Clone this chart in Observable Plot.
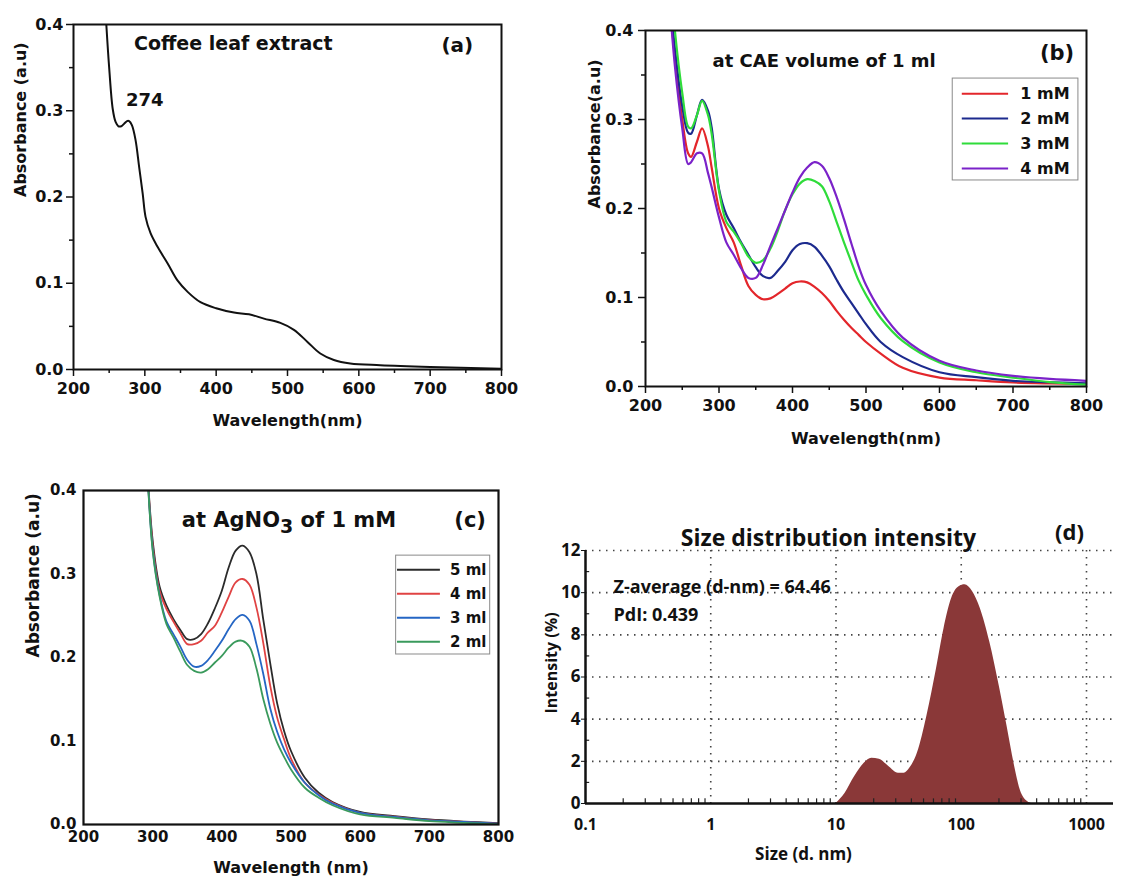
<!DOCTYPE html>
<html><head><meta charset="utf-8">
<script src="https://cdn.jsdelivr.net/npm/d3@7"></script>
<script src="https://cdn.jsdelivr.net/npm/@observablehq/plot@0.6"></script>
<style>
html,body{margin:0;padding:0;background:#fff;}
#fig{position:relative;width:1125px;height:881px;overflow:hidden;background:#fff;}
.panel{position:absolute;}
</style></head><body><div id="fig"></div>
<script>
// ---------- Panel (a): coffee leaf extract ----------
const wlA  = [244, 246, 250, 255, 259, 263, 267, 271, 275, 278, 282, 287, 292, 297, 301, 308, 318, 332, 346, 360, 378, 400, 425, 446, 467, 490, 509, 528, 546, 565, 588, 630, 700, 800];
const absA = [0.43, 0.40, 0.35, 0.302, 0.287, 0.282, 0.282, 0.285, 0.288, 0.288, 0.283, 0.266, 0.235, 0.204, 0.177, 0.158, 0.142, 0.123, 0.103, 0.090, 0.078, 0.071, 0.066, 0.064, 0.059, 0.054, 0.046, 0.032, 0.0185, 0.011, 0.007, 0.005, 0.003, 0.001];

// ---------- Panel (b): AgNO3 concentration series ----------
const wlB = [232, 240, 250, 258, 262, 270, 277, 285, 290, 300, 310, 320, 330, 340, 350, 360, 370, 380, 390, 400, 410, 420, 430, 440, 450, 460, 470, 480, 490, 500, 520, 550, 600, 650, 700, 750, 800];
const seriesB = ["1 mM", "2 mM", "3 mM", "4 mM"];
const b1mM = [0.44, 0.37, 0.30, 0.262, 0.258, 0.275, 0.290, 0.270, 0.246, 0.200, 0.178, 0.162, 0.136, 0.113, 0.103, 0.098, 0.099, 0.104, 0.110, 0.116, 0.118, 0.117, 0.112, 0.105, 0.096, 0.085, 0.075, 0.066, 0.058, 0.050, 0.037, 0.021, 0.010, 0.007, 0.0045, 0.0035, 0.003];
const b2mM = [0.45, 0.38, 0.315, 0.285, 0.284, 0.305, 0.322, 0.310, 0.291, 0.222, 0.193, 0.178, 0.162, 0.148, 0.134, 0.124, 0.122, 0.130, 0.140, 0.153, 0.160, 0.161, 0.157, 0.147, 0.135, 0.120, 0.106, 0.094, 0.082, 0.070, 0.050, 0.033, 0.016, 0.0105, 0.0064, 0.0048, 0.0035];
const b3mM = [0.48, 0.40, 0.33, 0.292, 0.290, 0.305, 0.321, 0.305, 0.284, 0.220, 0.185, 0.174, 0.161, 0.146, 0.139, 0.142, 0.155, 0.175, 0.198, 0.216, 0.228, 0.233, 0.231, 0.225, 0.208, 0.185, 0.162, 0.140, 0.119, 0.103, 0.077, 0.051, 0.027, 0.016, 0.010, 0.005, 0.002];
const b4mM = [0.44, 0.36, 0.29, 0.250, 0.252, 0.262, 0.262, 0.240, 0.224, 0.190, 0.162, 0.148, 0.133, 0.122, 0.122, 0.137, 0.158, 0.178, 0.198, 0.218, 0.235, 0.246, 0.252, 0.248, 0.234, 0.213, 0.188, 0.161, 0.135, 0.114, 0.085, 0.055, 0.029, 0.018, 0.012, 0.0085, 0.0064];
const colorsB = ["#e3262b", "#1c2a8e", "#2fdc3a", "#7b22c9"];

// ---------- Panel (c): CAE volume series ----------
const wlC = [292, 300, 310, 320, 330, 340, 350, 360, 370, 380, 390, 400, 410, 420, 430, 440, 450, 460, 470, 480, 490, 500, 520, 540, 560, 600, 650, 700, 750, 800];
const seriesC = ["5 ml", "4 ml", "3 ml", "2 ml"];
const c5ml = [0.43, 0.340, 0.285, 0.262, 0.246, 0.233, 0.222, 0.222, 0.228, 0.241, 0.259, 0.280, 0.308, 0.328, 0.334, 0.326, 0.300, 0.245, 0.193, 0.145, 0.112, 0.088, 0.056, 0.038, 0.027, 0.015, 0.010, 0.006, 0.0035, 0.0016];
const c4ml = [0.43, 0.335, 0.280, 0.258, 0.243, 0.229, 0.216, 0.216, 0.220, 0.230, 0.238, 0.254, 0.273, 0.290, 0.294, 0.287, 0.260, 0.217, 0.166, 0.128, 0.102, 0.079, 0.050, 0.036, 0.026, 0.014, 0.0093, 0.0052, 0.003, 0.001];
const c3ml = [0.43, 0.330, 0.275, 0.243, 0.228, 0.213, 0.197, 0.189, 0.190, 0.197, 0.208, 0.220, 0.234, 0.246, 0.251, 0.244, 0.216, 0.180, 0.139, 0.111, 0.090, 0.074, 0.050, 0.035, 0.025, 0.014, 0.009, 0.005, 0.003, 0.001];
const c2ml = [0.43, 0.328, 0.273, 0.240, 0.224, 0.207, 0.191, 0.184, 0.182, 0.186, 0.194, 0.202, 0.212, 0.219, 0.220, 0.213, 0.187, 0.150, 0.121, 0.098, 0.081, 0.066, 0.044, 0.032, 0.023, 0.012, 0.008, 0.004, 0.002, 0.0];
const colorsC = ["#2b2b2b", "#e04343", "#2566c4", "#3a9a5c"];

// ---------- Panel (d): DLS size distribution ----------
const sizeD = [10, 11.8, 14.1, 16.8, 19.3, 22.2, 26.4, 31.5, 35, 38.9, 44.7, 53.2, 63.4, 72.9, 83.9, 96.6, 107, 123, 142, 169, 201, 232, 267, 296, 340, 365];
const intD  = [0, 0.48, 1.28, 1.91, 2.15, 2.10, 1.76, 1.44, 1.44, 1.68, 2.39, 4.15, 6.38, 8.30, 9.73, 10.29, 10.37, 10.05, 9.25, 7.66, 5.58, 3.67, 1.76, 0.64, 0.08, 0];

// ticks
const xTicksAbs = [200, 300, 400, 500, 600, 700, 800];
const yTicksAbs = [0, 0.1, 0.2, 0.3, 0.4];
const xTicksD = [0.1, 1, 10, 100, 1000];
const yTicksD = [0, 2, 4, 6, 8, 10, 12];

// ---------- build ----------
const fig = document.getElementById("fig");
function place(svg, left, top) {
  const d = document.createElement("div");
  d.className = "panel"; d.style.left = left + "px"; d.style.top = top + "px";
  d.appendChild(svg); fig.appendChild(d);
}
const F = "DejaVu Sans";
const baseStyle = (size, fam) => ({fontFamily: fam || F, fontWeight: "bold", fontSize: size + "px", background: "transparent", color: "#111", overflow: "visible"});
const fmt1 = d3.format(".1f");
const smooth = "catmull-rom";

const dataA = wlA.map((w, i) => ({wl: w, a: absA[i]}));
const valsB = [b1mM, b2mM, b3mM, b4mM];
const dataB = seriesB.flatMap((s, k) => wlB.map((w, i) => ({wl: w, a: valsB[k][i], s})));
const valsC = [c5ml, c4ml, c3ml, c2ml];
const dataC = seriesC.flatMap((s, k) => wlC.map((w, i) => ({wl: w, a: valsC[k][i], s})));
const dataD = sizeD.map((x, i) => ({size: x, v: intD[i]}));

// Panel (a)
const pa = Plot.plot({
  width: 540, height: 445, marginLeft: 73, marginRight: 39, marginTop: 24, marginBottom: 76,
  style: baseStyle(16),
  x: {domain: [200, 800], label: null},
  y: {domain: [0, 0.4], label: null},
  marks: [
    Plot.axisX({ticks: d3.range(250, 800, 100), tickSize: 4, tickFormat: () => "", label: null, strokeWidth: 1.5}),
    Plot.axisX({ticks: xTicksAbs, tickSize: 7, tickPadding: 6, tickFormat: d => d, label: null, strokeWidth: 1.5}),
    Plot.axisY({ticks: [0.05, 0.15, 0.25, 0.35], tickSize: 4, tickFormat: () => "", label: null, strokeWidth: 1.5}),
    Plot.axisY({ticks: yTicksAbs, tickSize: 7, tickPadding: 3, tickFormat: fmt1, label: null, strokeWidth: 1.5}),
    Plot.line(dataA, {x: "wl", y: "a", stroke: "#111", strokeWidth: 2, curve: smooth, clip: true}),
    Plot.frame({stroke: "#111", strokeWidth: 2}),
    Plot.text(["Coffee leaf extract"], {x: 424, y: 0.378, text: d => d, fontSize: 19, fontWeight: "bold"}),
    Plot.text(["274"], {x: 300, y: 0.312, text: d => d, fontSize: 18, fontWeight: "bold"}),
    Plot.text(["(a)"], {x: 738, y: 0.376, text: d => d, fontSize: 20, fontWeight: "bold"}),
    Plot.text(["Wavelength(nm)"], {frameAnchor: "bottom", dy: 56, text: d => d, fontSize: 16, fontWeight: "bold"}),
    Plot.text(["Absorbance (a.u)"], {frameAnchor: "left", dx: -53, rotate: -90, text: d => d, fontSize: 16, fontWeight: "bold"})
  ]
});
place(pa, 0, 0);

// Panel (b)
const legYB = (d, i) => 0.329 - i * 0.028;
const pb = Plot.plot({
  width: 580, height: 460, marginLeft: 100, marginRight: 39, marginTop: 30, marginBottom: 74,
  style: baseStyle(16),
  x: {domain: [200, 800], label: null},
  y: {domain: [0, 0.4], label: null},
  color: {domain: seriesB, range: colorsB},
  marks: [
    Plot.axisX({ticks: d3.range(250, 800, 100), tickSize: 4, tickFormat: () => "", label: null, strokeWidth: 1.5}),
    Plot.axisX({ticks: xTicksAbs, tickSize: 7, tickPadding: 6, tickFormat: d => d, label: null, strokeWidth: 1.5}),
    Plot.axisY({ticks: [0.05, 0.15, 0.25, 0.35], tickSize: 4, tickFormat: () => "", label: null, strokeWidth: 1.5}),
    Plot.axisY({ticks: yTicksAbs, tickSize: 7, tickPadding: 5, tickFormat: fmt1, label: null, strokeWidth: 1.5}),
    Plot.line(dataB, {x: "wl", y: "a", z: "s", stroke: "s", strokeWidth: 2.2, curve: smooth, clip: true}),
    Plot.frame({stroke: "#111", strokeWidth: 2}),
    Plot.rect([0], {x1: 618, x2: 789, y1: 0.2315, y2: 0.346, fill: "white", stroke: "#8a8a8a", strokeWidth: 1}),
    Plot.ruleY(seriesB, {x1: 631, x2: 694, y: legYB, stroke: d => d, strokeWidth: 2}),
    Plot.text(seriesB, {x: 710, y: legYB, text: d => d, textAnchor: "start", fontSize: 16, fontWeight: "bold"}),
    Plot.text(["at CAE volume of 1 ml"], {x: 443, y: 0.366, text: d => d, fontSize: 18, fontWeight: "bold"}),
    Plot.text(["(b)"], {x: 760, y: 0.374, text: d => d, fontSize: 21, fontWeight: "bold"}),
    Plot.text(["Wavelength(nm)"], {frameAnchor: "bottom", dy: 57, text: d => d, fontSize: 16, fontWeight: "bold"}),
    Plot.text(["Absorbance(a.u)"], {frameAnchor: "left", dx: -51, rotate: -90, text: d => d, fontSize: 16, fontWeight: "bold"})
  ]
});
place(pb, 545, 0);

// Panel (c)
const legYC = (d, i) => 0.305 - i * 0.0287;
const titleC = "at AgNO3 of 1 mM";
const pc = Plot.plot({
  width: 540, height: 411, marginLeft: 83, marginRight: 42, marginTop: 20, marginBottom: 57,
  style: baseStyle(15),
  x: {domain: [200, 800], label: null},
  y: {domain: [0, 0.4], label: null},
  color: {domain: seriesC, range: colorsC},
  marks: [
    Plot.axisX({ticks: xTicksAbs, tickSize: 0, tickPadding: 7, tickFormat: d => d, label: null}),
    Plot.axisY({ticks: yTicksAbs, tickSize: 0, tickPadding: 7, tickFormat: fmt1, label: null}),
    Plot.line(dataC, {x: "wl", y: "a", z: "s", stroke: "s", strokeWidth: 1.8, curve: smooth, clip: true}),
    Plot.frame({stroke: "#111", strokeWidth: 2.2}),
    Plot.rect([0], {x1: 652, x2: 788, y1: 0.2036, y2: 0.322, fill: "white", stroke: "#8a8a8a", strokeWidth: 1}),
    Plot.ruleY(seriesC, {x1: 654, x2: 716, y: legYC, stroke: d => d, strokeWidth: 2}),
    Plot.text(seriesC, {x: 730, y: legYC, text: d => d, textAnchor: "start", fontSize: 15, fontWeight: "bold"}),
    Plot.text([titleC], {x: 497, y: 0.364, text: d => d, fontSize: 21, fontWeight: "bold"}),
    Plot.text(["(c)"], {x: 759, y: 0.364, text: d => d, fontSize: 21, fontWeight: "bold"}),
    Plot.text(["Wavelength (nm)"], {frameAnchor: "bottom", dy: 48, text: d => d, fontSize: 16, fontWeight: "bold"}),
    Plot.text(["Absorbance (a.u)"], {frameAnchor: "left", dx: -50, rotate: -90, text: d => d, fontSize: 17, fontWeight: "bold"})
  ]
});
// subscript the 3 of AgNO3
pc.querySelectorAll("text").forEach(t => {
  if (t.textContent === titleC) {
    t.textContent = "";
    const ns = "http://www.w3.org/2000/svg";
    const parts = [["at AgNO", null], ["3", "sub"], [" of 1 mM", "back"]];
    for (const [s, kind] of parts) {
      const sp = document.createElementNS(ns, "tspan");
      sp.textContent = s;
      if (kind === "sub") { sp.setAttribute("dy", "6"); sp.setAttribute("font-size", "19"); }
      if (kind === "back") { sp.setAttribute("dy", "-6"); }
      t.appendChild(sp);
    }
  }
});
place(pc, 0, 470);

// Panel (d)
const OS = "Open Sans";
const minorXD = [-1, 0, 1, 2].flatMap(k => d3.range(2, 10).map(m => m * Math.pow(10, k)));
const pd = Plot.plot({
  width: 595, height: 381, marginLeft: 55, marginRight: 12, marginTop: 50, marginBottom: 78,
  style: baseStyle(16, OS),
  x: {type: "log", domain: [0.1, 1643], label: null},
  y: {domain: [0, 12], label: null},
  marks: [
    Plot.ruleY(yTicksD.slice(1), {stroke: "#444", strokeWidth: 1.6, strokeDasharray: "1.5,5.5"}),
    Plot.ruleX(xTicksD.slice(1), {stroke: "#444", strokeWidth: 1.6, strokeDasharray: "1.5,5.5"}),
    Plot.areaY(dataD, {x: "size", y: "v", fill: "#8a3838", curve: "monotone-x"}),
    Plot.axisX({ticks: xTicksD, tickSize: 0, tickPadding: 15, tickFormat: d => String(d), label: null, fontSize: 16, fontWeight: "bold"}),
    Plot.axisY({ticks: yTicksD, tickSize: 4, tickPadding: 1, label: null, fontSize: 17, fontWeight: "bold"}),
    Plot.ruleX(minorXD, {y1: 0, y2: 0.22, stroke: "#222", strokeWidth: 1.2}),
    Plot.ruleY([1, 3, 5, 7, 9, 11], {x1: 0.1, x2: 0.108, stroke: "#222", strokeWidth: 1.2}),
    Plot.ruleY([0], {stroke: "#111", strokeWidth: 2.5}),
    Plot.ruleX([0.1], {stroke: "#111", strokeWidth: 2.5}),
    Plot.text(["Size distribution intensity"], {x: 8.7, y: 12.57, text: d => d, fontSize: 23, fontWeight: "bold", fontFamily: OS}),
    Plot.text(["(d)"], {x: 731, y: 12.81, text: d => d, fontSize: 22, fontWeight: "bold", fontFamily: OS}),
    Plot.text(["Z-average (d-nm) = 64.46"], {x: 0.1675, y: 10.25, text: d => d, textAnchor: "start", fontSize: 18, fontWeight: "bold", fontFamily: OS}),
    Plot.text(["PdI: 0.439"], {x: 0.1675, y: 8.92, text: d => d, textAnchor: "start", fontSize: 18, fontWeight: "bold", fontFamily: OS}),
    Plot.text(["Size (d. nm)"], {x: 5.5, frameAnchor: "bottom", dy: 56, text: d => d, fontSize: 17, fontWeight: "bold", fontFamily: OS}),
    Plot.text(["Intensity (%)"], {y: 4.27, frameAnchor: "left", dx: -34, rotate: -90, text: d => d, fontSize: 16, fontWeight: "bold", fontFamily: OS})
  ]
});
place(pd, 530, 500);
</script></body></html>
